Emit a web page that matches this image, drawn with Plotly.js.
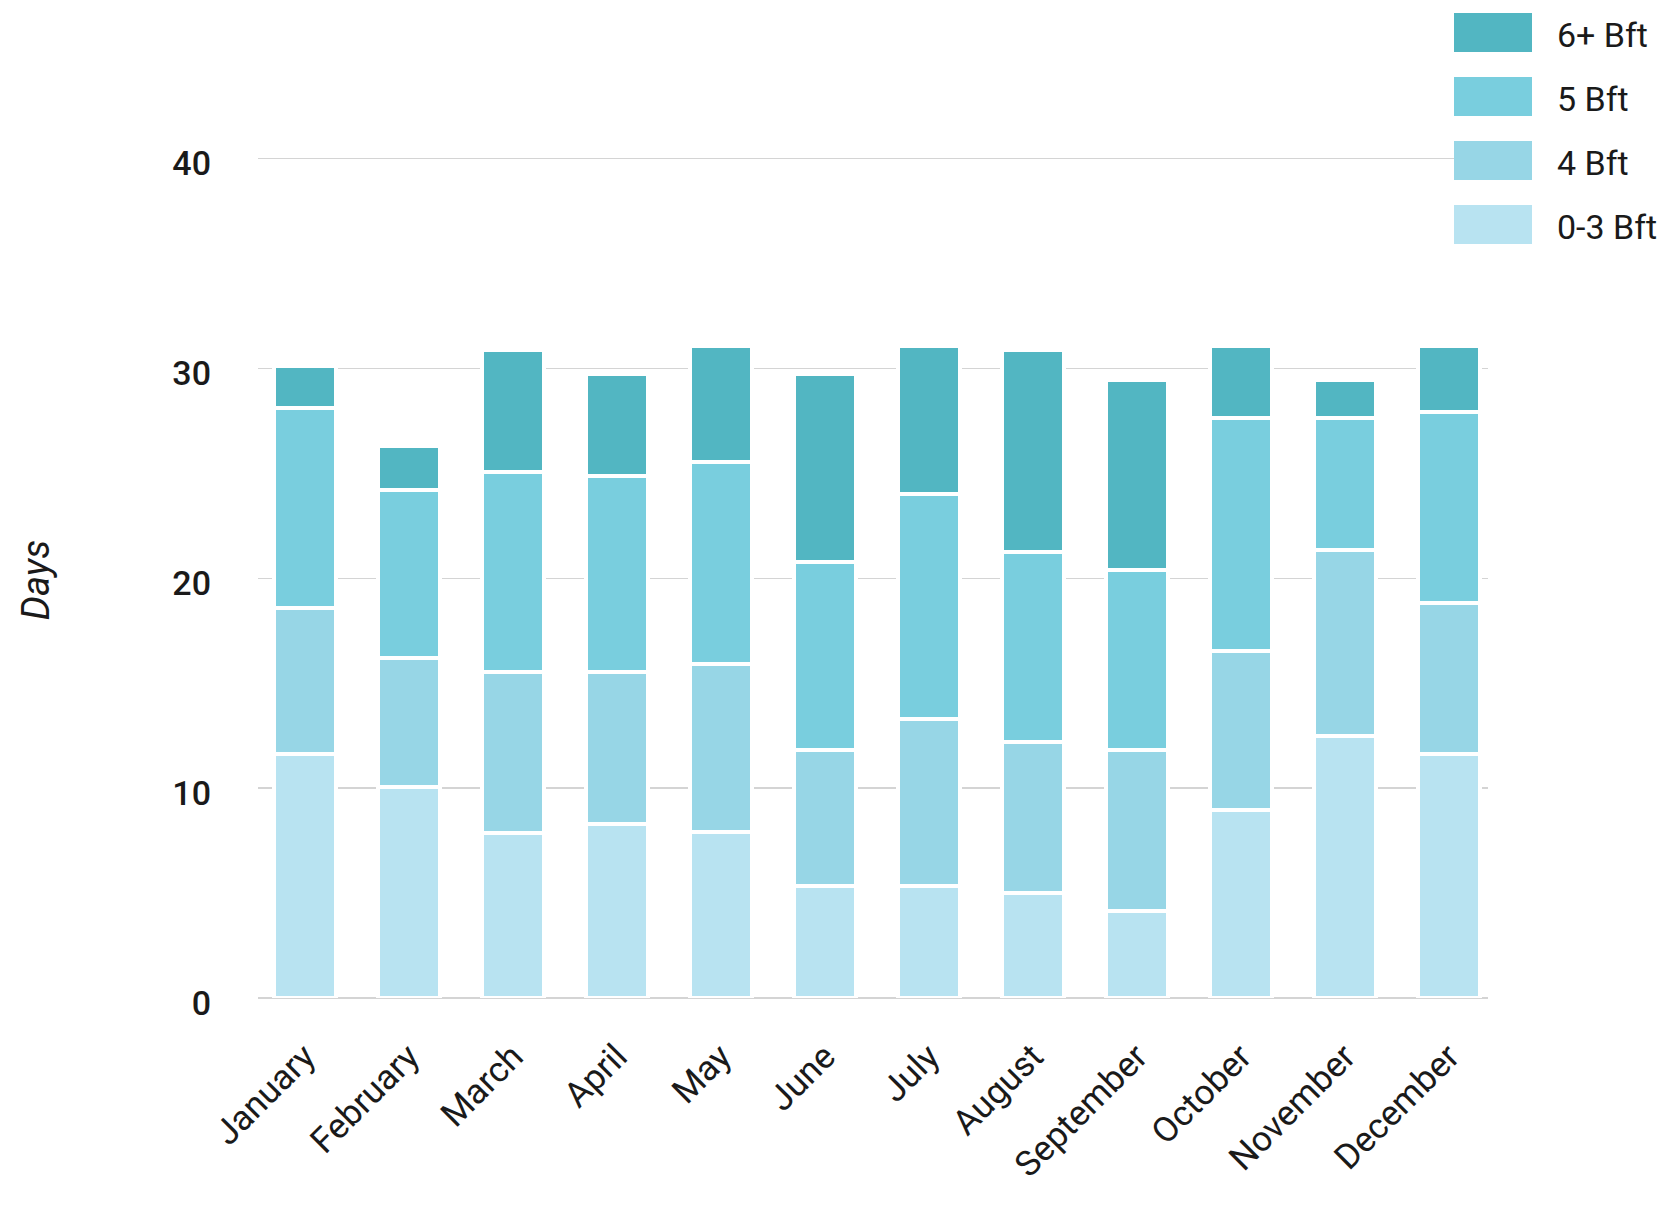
<!DOCTYPE html>
<html>
<head>
<meta charset="utf-8">
<script src="https://cdn.plot.ly/plotly-3.0.1.min.js"></script>
<style>html,body{margin:0;padding:0;background:#fff;}</style>
</head>
<body>
<div id="chart" style="width:1668px;height:1205px;"></div>
<script>
const months = ['January','February','March','April','May','June','July','August','September','October','November','December'];
const seriesNames = ['0-3 Bft','4 Bft','5 Bft','6+ Bft'];
const seriesColors = ['#B8E3F1','#97D6E6','#79CEDE','#52B6C2'];
const bft03 = [11.64,10.04,7.84,8.30,7.92,5.35,5.35,4.99,4.13,8.98,12.49,11.64];
const bft4  = [6.96,6.17,7.71,7.25,8.01,6.49,7.92,7.21,7.71,7.53,8.87,7.16];
const bft5  = [9.52,7.98,9.52,9.34,9.62,8.92,10.76,9.06,8.56,11.13,6.28,9.14];
const bft6  = [1.98,2.10,5.79,4.83,5.51,8.96,7.03,9.60,9.04,3.42,1.80,3.12];
const yTicks = [0,10,20,30,40];
const yTitle = 'Days';

const seriesValues = [bft03,bft4,bft5,bft6];
const FONT = 'Roboto, "Noto Sans", sans-serif';
const W = 1668, H = 1205;
const YMAX = 40.5;
const pxPerUnit = 21.0;
const M = {l:258, r:180, b:207, t:0};
M.t = H - M.b - YMAX * pxPerUnit;
const pw = W - M.l - M.r, ph = H - M.t - M.b;
const px2x = p => (p - M.l) / pw;
const py2y = p => (H - M.b - p) / ph;

const traces = seriesValues.map((vals, i) => ({
  type: 'bar',
  name: seriesNames[i],
  x: months.map((m, k) => k),
  y: vals,
  width: 0.59,
  marker: {color: seriesColors[i], line: {color: '#ffffff', width: 4}},
  showlegend: false,
  hoverinfo: 'x+y+name'
}));

// custom legend (top to bottom: 6+, 5, 4, 0-3)
const shapes = [], annotations = [];
const order = [3,2,1,0];
order.forEach((si, row) => {
  const top = 12.5 + row * 64;
  shapes.push({
    type: 'rect', xref: 'paper', yref: 'paper', layer: 'above',
    x0: px2x(1454), x1: px2x(1532), y0: py2y(top + 39), y1: py2y(top),
    fillcolor: seriesColors[si], line: {width: 0}
  });
  annotations.push({
    xref: 'paper', yref: 'paper', x: px2x(1555), y: py2y(top + 22),
    xanchor: 'left', yanchor: 'middle', showarrow: false,
    text: seriesNames[si], font: {family: FONT, size: 34, color: '#1a1a1a'}
  });
});
annotations.push({
  xref: 'paper', yref: 'paper', x: px2x(36), y: py2y(580),
  xanchor: 'center', yanchor: 'middle', showarrow: false, textangle: -90,
  text: '<i>' + yTitle + '</i>', font: {family: FONT, size: 38, color: '#1a1a1a'}
});

const layout = {
  width: W, height: H,
  margin: M,
  barmode: 'stack',
  paper_bgcolor: '#ffffff', plot_bgcolor: '#ffffff',
  showlegend: false,
  xaxis: {
    range: [-0.45, 11.374],
    tickmode: 'array', tickvals: months.map((m, k) => k), ticktext: months,
    tickangle: -45, ticklabelstandoff: 30,
    showgrid: false, zeroline: false, showline: false, ticks: '',
    tickfont: {family: FONT, size: 35, color: '#1a1a1a'}
  },
  yaxis: {
    range: [0, YMAX],
    tickmode: 'array', tickvals: yTicks, ticktext: yTicks.map(String),
    showgrid: true, gridcolor: '#d4d4d4', gridwidth: 1.5,
    zeroline: true, zerolinecolor: '#d4d4d4', zerolinewidth: 2,
    showline: false, ticks: '', ticklabelstandoff: 46, ticklabelshift: 5,
    tickfont: {family: FONT, size: 34, color: '#1a1a1a', weight: 500}
  },
  shapes: shapes,
  annotations: annotations
};

Plotly.newPlot('chart', traces, layout, {displayModeBar: false, staticPlot: true});
</script>
</body>
</html>
